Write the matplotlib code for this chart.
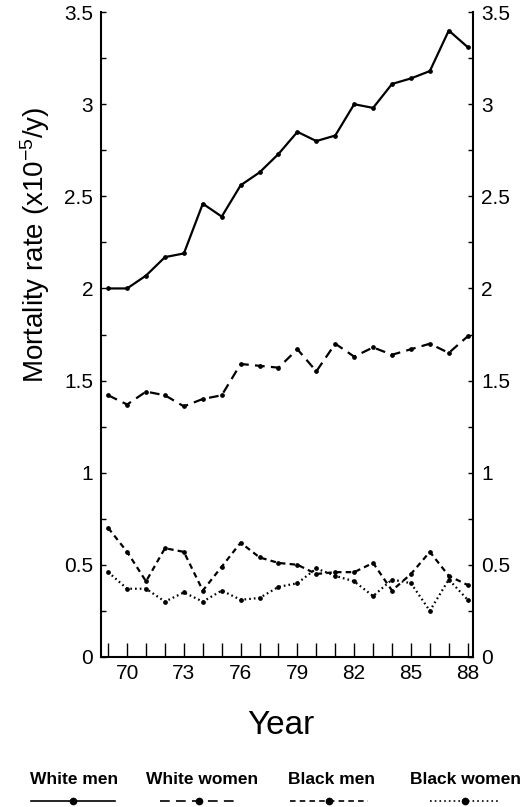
import matplotlib
matplotlib.use("Agg")
import matplotlib.pyplot as plt
from matplotlib.lines import Line2D
from matplotlib.ticker import FixedLocator, MultipleLocator

plt.rcParams['font.family'] = ['Liberation Sans', 'DejaVu Sans']
plt.rcParams['mathtext.default'] = 'regular'
plt.rcParams['lines.scale_dashes'] = False

# data (years 1969-1988, rate x10^-5 per year)
years = list(range(69, 89))
white_men = [2.00, 2.00, 2.07, 2.17, 2.19, 2.46, 2.39, 2.56, 2.63, 2.73,
             2.85, 2.80, 2.83, 3.00, 2.98, 3.11, 3.14, 3.18, 3.40, 3.31]
white_women = [1.42, 1.37, 1.44, 1.42, 1.36, 1.40, 1.42, 1.59, 1.58, 1.57,
               1.67, 1.55, 1.70, 1.63, 1.68, 1.64, 1.67, 1.70, 1.65, 1.74]
black_men = [0.70, 0.57, 0.41, 0.59, 0.57, 0.36, 0.49, 0.62, 0.54, 0.51,
             0.50, 0.45, 0.46, 0.46, 0.51, 0.36, 0.45, 0.57, 0.44, 0.39]
black_women = [0.46, 0.37, 0.37, 0.30, 0.35, 0.30, 0.36, 0.31, 0.32, 0.38,
               0.40, 0.48, 0.44, 0.41, 0.33, 0.42, 0.40, 0.25, 0.42, 0.31]
labelled_years = [70, 73, 76, 79, 82, 85, 88]

names = ["White men", "White women", "Black men", "Black women"]
series = [white_men, white_women, black_men, black_women]
dashes = [(None), (7, 4.5), (4, 3), (1.2, 2.2)]

fig = plt.figure(figsize=(5.2, 8.07), dpi=100)
ax = fig.add_axes([0.195, 0.186, 0.7146, 0.799])

for vals, d in zip(series, dashes):
    line, = ax.plot(years, vals, color='black', lw=1.6, marker='o', ms=2.4,
                    solid_capstyle='butt', dash_capstyle='butt')
    if d is not None:
        line.set_dashes(d)

ax.set_xlim(68.64, 88.28)
ax.set_ylim(0, 3.5)
ax.xaxis.set_major_locator(FixedLocator(years))
ax.set_xticklabels([str(y) if y in labelled_years else '' for y in years])
ax.yaxis.set_major_locator(MultipleLocator(0.5))
ax.yaxis.set_minor_locator(MultipleLocator(0.25))
ax.yaxis.set_major_formatter(lambda v, p: ('%g' % v))

ax.spines['top'].set_visible(False)
for s in ['left', 'right', 'bottom']:
    ax.spines[s].set_linewidth(1.5)
ax.tick_params(axis='x', direction='in', length=10, width=1, labelsize=15, pad=5)
ax.tick_params(axis='y', which='both', direction='in', length=3.5, width=1,
               labelsize=15, left=True, right=True, labelleft=True, labelright=True)
ax.tick_params(axis='y', which='major', pad=6)

fig.text(35 / 520, 1 - 245 / 807, r'Mortality rate (x10$^{-5}$/y)',
         rotation=90, ha='center', va='center', fontsize=20)
fig.text(281 / 520, 1 - 725 / 807, 'Year', ha='center', va='center', fontsize=24)

# legend: name above a short sample of each line style
text_x = [74, 202, 331, 466]
handle_x = [(31, 115), (160, 237), (290, 368), (430, 500)]
for name, d, tx, (x0, x1) in zip(names, dashes, text_x, handle_x):
    fig.text(tx / 520, 1 - 780 / 807, name, ha='center', va='center',
             fontsize=12.5, fontweight='bold')
    yl = 1 - 800.5 / 807
    ln = Line2D([x0 / 520, x1 / 520], [yl, yl], transform=fig.transFigure,
                color='black', lw=1.2)
    if d is not None:
        ln.set_dashes(d)
    fig.add_artist(ln)
    fig.add_artist(Line2D([(x0 + x1) / 2 / 520], [yl], transform=fig.transFigure,
                          color='black', marker='o', ms=4.5, lw=0))

fig.savefig('out.png', dpi=100)
